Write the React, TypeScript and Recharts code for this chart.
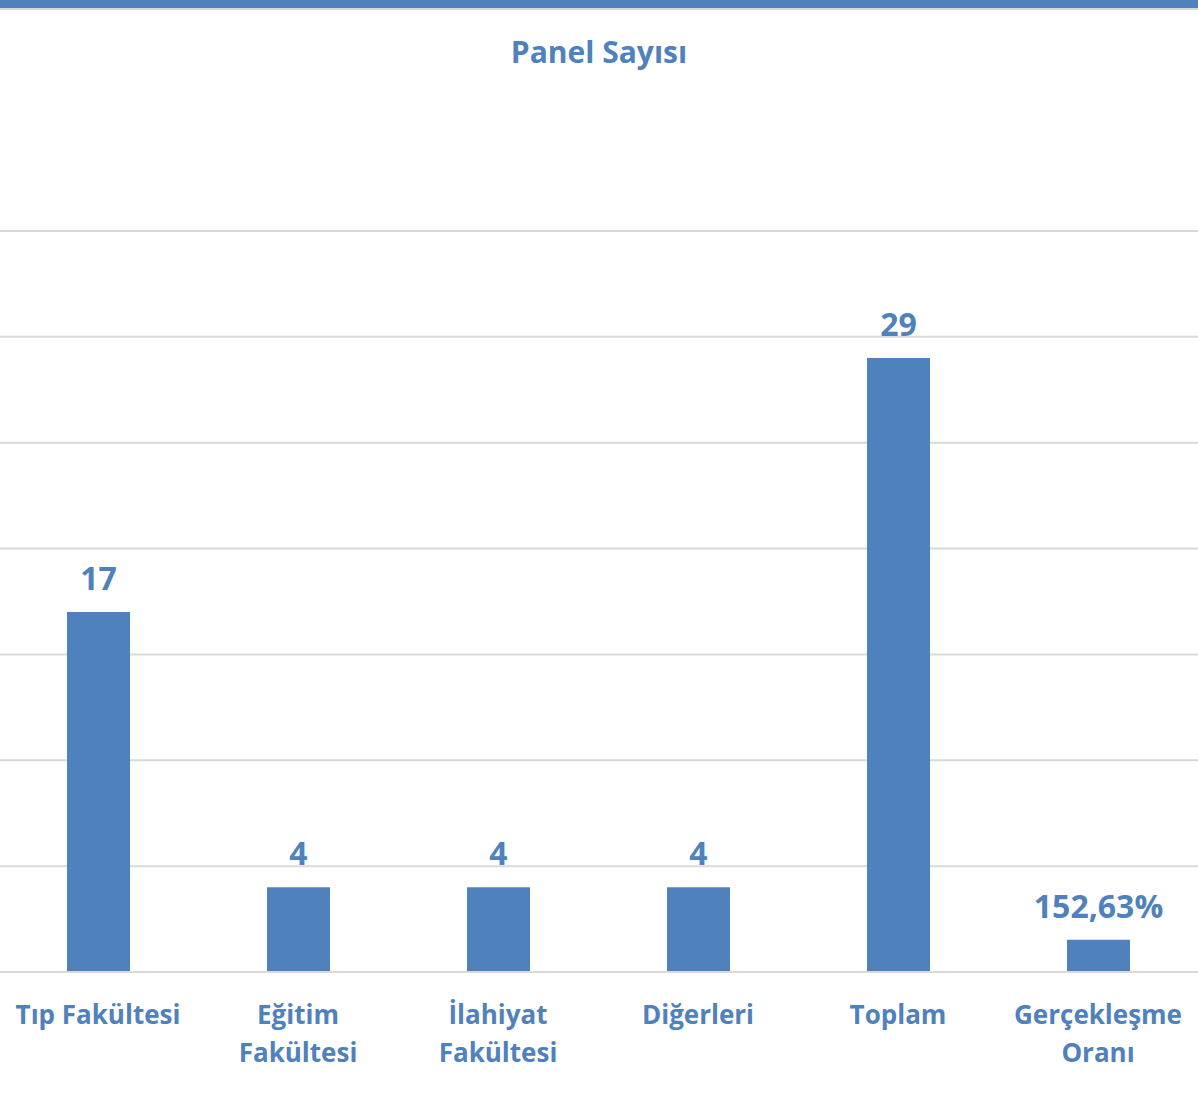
import React from 'react';
import { BarChart, Bar, XAxis, YAxis, CartesianGrid, LabelList } from 'recharts';

const BLUE = '#4F81BD';
const FONT = '"Open Sans", "Noto Sans", sans-serif';

const categories = ['Tıp Fakültesi', 'Eğitim Fakültesi', 'İlahiyat Fakültesi', 'Diğerleri', 'Toplam', 'Gerçekleşme Oranı'];
const panelValues = [17, 4, 4, 4, 29, 1.5263];
const valueLabels = ['17', '4', '4', '4', '29', '152,63%'];
const yTicks = [0, 5, 10, 15, 20, 25, 30, 35];

const chartData = categories.map((name, i) => ({
    name,
    value: panelValues[i],
    label: valueLabels[i]
}));

const CategoryTick = (props: any) => {
    const { x, y, payload } = props;
    const text: string = payload.value;
    const lines = text.length > 14 ? [text.slice(0, text.indexOf(' ')), text.slice(text.indexOf(' ') + 1)] : [text];
    return (
        <text x={x} y={y + 44} textAnchor="middle" fill={BLUE} fontFamily={FONT} fontWeight={700} fontSize={26}>
            {lines.map((line, i) => (
                <tspan key={i} x={x} dy={i === 0 ? 0 : 38}>{line}</tspan>
            ))}
        </text>
    );
};

export default function App() {
    return (
        <div style={{ position: 'absolute', left: 0, top: 0, width: 1198, height: 1113, overflow: 'hidden', background: '#fff' }}>
            <div style={{ height: 8, background: BLUE }} />
            <div style={{ height: 2, background: '#D9D9D9' }} />
            <div style={{
                position: 'absolute', top: 30, left: 0, width: 1198, textAlign: 'center',
                fontFamily: FONT, fontWeight: 700, fontSize: 30, color: BLUE, lineHeight: '44px'
            }}>
                Panel Sayısı
            </div>
            <div style={{ position: 'absolute', left: -2, top: 1 }}>
                <BarChart width={1200} height={1112} data={chartData} margin={{ top: 230, right: 0, bottom: 0, left: 0 }}>
                    <CartesianGrid vertical={false} stroke="#D9D9D9" strokeWidth={2} />
                    <YAxis hide domain={[0, 35]} ticks={yTicks} />
                    <XAxis
                        dataKey="name"
                        height={141}
                        interval={0}
                        tickLine={false}
                        axisLine={{ stroke: '#D9D9D9', strokeWidth: 2 }}
                        tick={<CategoryTick />}
                    />
                    <Bar dataKey="value" fill={BLUE} barSize={63} isAnimationActive={false}>
                        <LabelList
                            dataKey="label"
                            position="top"
                            offset={22}
                            fill={BLUE}
                            fontFamily={FONT}
                            fontWeight={700}
                            fontSize={32}
                        />
                    </Bar>
                </BarChart>
            </div>
        </div>
    );
}
